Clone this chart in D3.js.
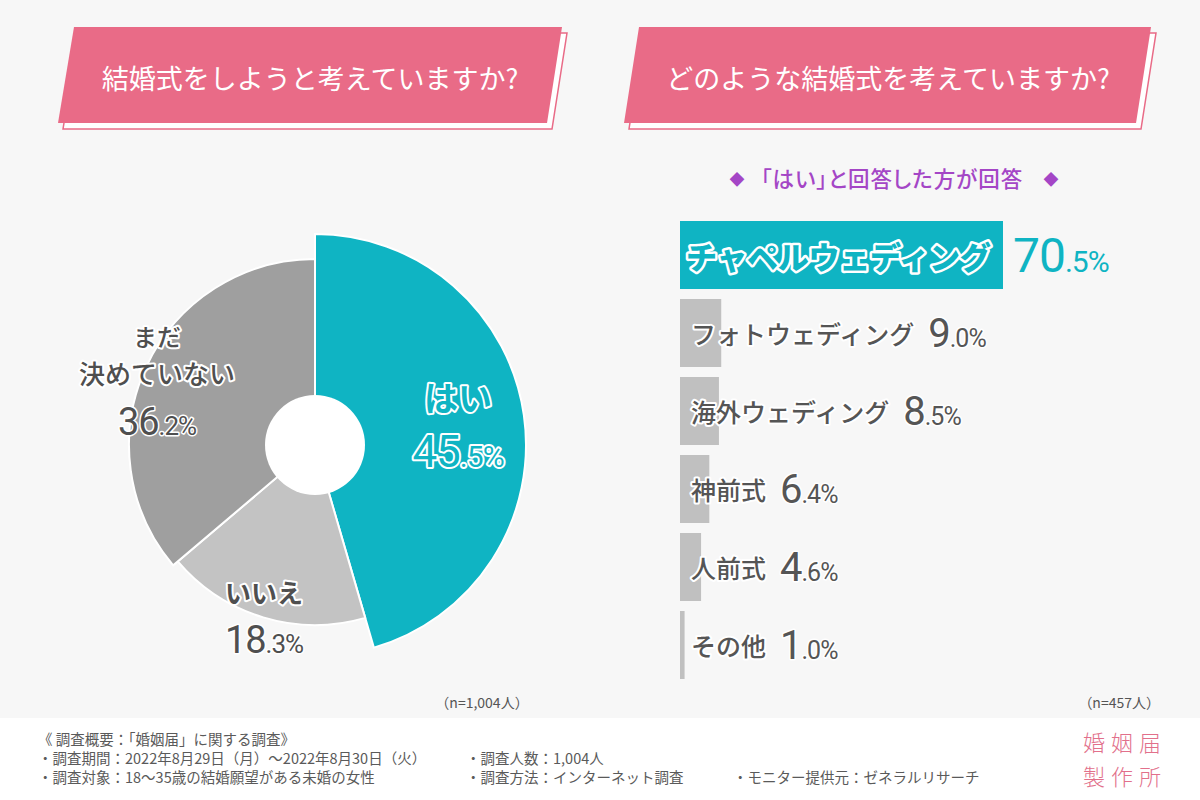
<!DOCTYPE html>
<html><head><meta charset="utf-8">
<script src="https://cdn.jsdelivr.net/npm/d3@7"></script>
<style>
html,body{margin:0;padding:0;background:#fff;}
svg{display:block;}
.palt{font-feature-settings:"palt";}
</style></head>
<body>
<svg id="chart" width="1200" height="800"></svg>
<script>
// ---- data ----
const leftTitle = "結婚式をしようと考えていますか?";
const rightTitle = "どのような結婚式を考えていますか?";
const subTitle = "「はい」と回答した方が回答";
const pieCategories = ["はい", "いいえ", "まだ|決めていない"];
const pieValues = [45.5, 18.3, 36.2];
const barCategories = ["チャペルウェディング", "フォトウェディング", "海外ウェディング", "神前式", "人前式", "その他"];
const barValues = [70.5, 9.0, 8.5, 6.4, 4.6, 1.0];
const leftNote = "（n=1,004人）";
const rightNote = "（n=457人）";
const footerCol1 = ["《 調査概要：「婚姻届」に関する調査》", "・調査期間：2022年8月29日（月）～2022年8月30日（火）", "・調査対象：18～35歳の結婚願望がある未婚の女性"];
const footerCol2 = ["・調査人数：1,004人", "・調査方法：インターネット調査"];
const footerCol3 = ["・モニター提供元：ゼネラルリサーチ"];
const logoLines = ["婚姻届", "製作所"];

// ---- style ----
const JP = "'Noto Sans CJK JP','Noto Sans',sans-serif";
const NUM = "Roboto,'Noto Sans CJK JP',sans-serif";
const TEAL = "#0fb4c3";
const PINK = "#e96b87";
const GRAYTXT = "#555555";

const svg = d3.select("#chart");
svg.append("rect").attr("width",1200).attr("height",718).attr("fill","#f7f7f7");
svg.append("rect").attr("y",718).attr("width",1200).attr("height",82).attr("fill","#ffffff");

// ---- banners ----
function banner(pts, title, cx){
  const g = svg.append("g");
  const back = pts.map(p=>[p[0]+5,p[1]+6]);
  g.append("polygon").attr("points", back.map(p=>p.join(",")).join(" "))
    .attr("fill","#ffffff").attr("stroke",PINK).attr("stroke-width",1.5);
  g.append("polygon").attr("points", pts.map(p=>p.join(",")).join(" ")).attr("fill",PINK);
  g.append("text").attr("x",cx).attr("y",82).attr("text-anchor","middle")
    .attr("dominant-baseline","middle").attr("fill","#fff")
    .attr("font-family",JP).attr("font-size",27).attr("font-weight",400).text(title);
}
banner([[74,27],[562,27],[547,123],[58,123]], leftTitle, 310);
banner([[639,27],[1151,27],[1136,123],[624,123]], rightTitle, 888);

// ---- donut ----
const cx = 315, cy = 445;
const radii = [211, 180, 186];
const pie = d3.pie().sort(null).value(d=>d)(pieValues);
const pieColors = [TEAL, "#c3c3c3", "#9f9f9f"];
const arc = d3.arc().innerRadius(0);
const pg = svg.append("g").attr("transform",`translate(${cx},${cy})`);
pg.selectAll("path").data(pie).join("path")
  .attr("d", (d,i)=>arc.outerRadius(radii[i])(d))
  .attr("fill",(d,i)=>pieColors[i]).attr("stroke","#fff").attr("stroke-width",2);
pg.append("circle").attr("r",50).attr("fill","#fff");

function outlined(sel, fill, sw){
  return sel.attr("fill",fill).attr("stroke","#fff").attr("stroke-width",sw)
    .attr("stroke-linejoin","round").attr("paint-order","stroke");
}
function valueText(g, x, y, v, bigSize, smallSize, anchor, fill, sw){
  const s = v.toFixed(1).split(".");
  const t = g.append("text").attr("x",x).attr("y",y).attr("text-anchor",anchor)
    .attr("font-family",NUM).attr("letter-spacing",-1);
  outlined(t, fill, sw);
  t.append("tspan").attr("font-size",bigSize).text(s[0]);
  t.append("tspan").attr("font-size",smallSize).text("." + s[1] + "%");
  return t;
}
// pie labels
const labelPos = [[458, 402, 452], [264, 596, 638], [157, 0, 420]];
const lg = svg.append("g");
pieCategories.forEach((c,i)=>{
  const lines = c.split("|");
  const fill = i===0 ? TEAL : "#4f4f4f";
  const size = i===0 ? 34 : 26;
  if(lines.length===1){
    outlined(lg.append("text").attr("x",labelPos[i][0]).attr("y",labelPos[i][1])
      .attr("text-anchor","middle").attr("dominant-baseline","middle")
      .attr("font-family",JP).attr("font-weight",700).attr("font-size",size).text(lines[0]), fill, 4);
  } else {
    outlined(lg.append("text").attr("text-anchor","middle").attr("x",labelPos[i][0]).attr("y",346)
      .attr("font-family",JP).attr("font-weight",500).attr("font-size",24).text(lines[0]), fill, 4);
    outlined(lg.append("text").attr("text-anchor","middle").attr("x",labelPos[i][0]).attr("y",384)
      .attr("font-family",JP).attr("font-weight",500).attr("font-size",26).text(lines[1]), fill, 4);
  }
  valueText(lg, labelPos[i][0], labelPos[i][2] + 15, pieValues[i], i===0?44:38, i===0?30:26, "middle", fill, i===0?4:3);
});

// ---- subtitle ----
const PURPLE = "#a446c6";
svg.append("text").attr("x",737).attr("y",181).attr("text-anchor","middle").attr("dominant-baseline","middle")
  .attr("fill",PURPLE).attr("font-family",JP).attr("font-size",15).text("◆");
svg.append("text").attr("x",1051).attr("y",181).attr("text-anchor","middle").attr("dominant-baseline","middle")
  .attr("fill",PURPLE).attr("font-family",JP).attr("font-size",15).text("◆");
svg.append("text").attr("class","palt").attr("x",892).attr("y",181).attr("text-anchor","middle").attr("dominant-baseline","middle")
  .attr("fill",PURPLE).attr("font-family",JP).attr("font-weight",500).attr("font-size",21.5).attr("letter-spacing",1).text(subTitle);

// ---- bars ----
const x = d3.scaleLinear().domain([0, barValues[0]]).range([680, 1003]);
const y = d3.scaleBand().domain(barCategories).range([221, 679]).paddingInner(0.128).paddingOuter(0);
const bg = svg.append("g");
bg.selectAll("rect").data(barCategories).join("rect")
  .attr("x", x(0)).attr("y", d=>y(d))
  .attr("width",(d,i)=>x(barValues[i]) - x(0)).attr("height", y.bandwidth())
  .attr("fill",(d,i)=> i===0 ? TEAL : "#c0c0c0");
barCategories.forEach((c,i)=>{
  const yc = y(c) + y.bandwidth()/2;
  if(i===0){
    outlined(bg.append("text").attr("x",686).attr("y",yc).attr("dominant-baseline","central")
      .attr("font-family",JP).attr("font-weight",900).attr("font-size",31).attr("letter-spacing",-0.3).text(c), TEAL, 5);
    valueText(bg, x(barValues[i]) + 10, yc + 17, barValues[i], 48, 30, "start", TEAL, 0);
  } else {
    const t = outlined(bg.append("text").attr("x",691).attr("y",yc).attr("dominant-baseline","central")
      .attr("font-family",JP).attr("font-weight",500).attr("font-size",25).text(c), GRAYTXT, 4);
    const w = t.node().getComputedTextLength();
    valueText(bg, 691 + w + 14, yc + 14, barValues[i], 40, 25, "start", GRAYTXT, 3);
  }
});

// ---- notes ----
svg.append("text").attr("x",482).attr("y",704).attr("text-anchor","middle").attr("dominant-baseline","middle")
  .attr("fill",GRAYTXT).attr("font-family",JP).attr("font-size",14).text(leftNote);
svg.append("text").attr("x",1160).attr("y",704).attr("text-anchor","end").attr("dominant-baseline","middle")
  .attr("fill",GRAYTXT).attr("font-family",JP).attr("font-size",14).text(rightNote);

// ---- footer ----
function colAt(lines, x0, startRow){
  lines.forEach((l,i)=>svg.append("text").attr("x",x0).attr("y",741 + (i+startRow)*19).attr("dominant-baseline","middle")
    .attr("fill","#5a5a5a").attr("font-family",JP).attr("font-size",14.5).text(l));
}
colAt(footerCol1, 38, 0);
colAt(footerCol2, 466, 1);
colAt(footerCol3, 733, 2);
logoLines.forEach((l,i)=>svg.append("text").attr("x",1083).attr("y",745 + i*34).attr("dominant-baseline","middle")
  .attr("fill","#e2708b").attr("font-family",JP).attr("font-weight",300).attr("font-size",22).attr("letter-spacing",6).text(l));
</script>
</body></html>
